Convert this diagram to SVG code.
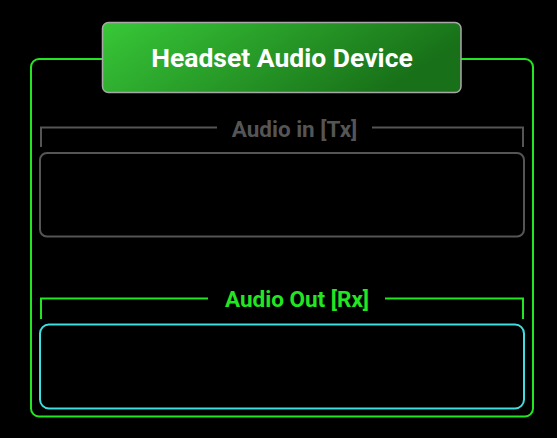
<svg xmlns="http://www.w3.org/2000/svg" width="557" height="438" viewBox="0 0 557 438">
<defs>
<linearGradient id="hg" x1="0" y1="0" x2="1" y2="0.3">
<stop offset="0" stop-color="#38c838"/>
<stop offset="1" stop-color="#187018"/>
</linearGradient>
<style>
text{font-family:Roboto,"Liberation Sans",sans-serif;font-weight:bold;text-anchor:middle}
.title{font-size:26.5px;fill:#ffffff}
.lbl{font-size:22.5px}
.grey{stroke:#555555;fill:none;stroke-width:2}
.green{stroke:#22e622;fill:none;stroke-width:2}
</style>
</defs>
<rect width="557" height="438" fill="#000000"/>
<g id="container">
<rect x="31" y="59" width="502" height="357.5" rx="8" class="green"/>
</g>
<g id="header">
<rect x="102.5" y="22.5" width="358.5" height="70" rx="6" fill="url(#hg)" stroke="#a8a8a8" stroke-width="1.5"/>
<text class="title" x="282" y="67">Headset Audio Device</text>
</g>
<g id="audio-in">
<path d="M41 147 V127.5 H217 M372 127.5 H523 V147" class="grey"/>
<text class="lbl" x="294.5" y="136.5" fill="#555555">Audio in [Tx]</text>
<rect x="40" y="153" width="484" height="83.5" rx="7" class="grey"/>
</g>
<g id="audio-out">
<path d="M41 319 V298.5 H208 M385 298.5 H523 V319" class="green"/>
<text class="lbl" x="297" y="307" fill="#22e622">Audio Out [Rx]</text>
<rect x="40" y="324.5" width="484" height="84" rx="9" fill="none" stroke="#40dede" stroke-width="2"/>
</g>
<g id="connectors"/>
</svg>
